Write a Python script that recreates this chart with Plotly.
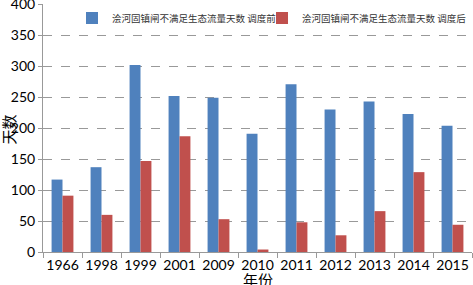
import plotly.graph_objects as go

years = ["1966", "1998", "1999", "2001", "2009", "2010", "2011", "2012", "2013", "2014", "2015"]
before = [117, 137, 302, 252, 249, 191, 271, 230, 243, 223, 204]
after = [91, 60, 147, 187, 53, 4, 48, 27, 66, 129, 44]
name_before = "浍河固镇闸不满足生态流量天数 调度前"
name_after = "浍河固镇闸不满足生态流量天数 调度后"

fig = go.Figure()
fig.add_trace(go.Bar(x=years, y=before, name=name_before, marker_color="#4F81BD",
                     marker_line_width=0, legend="legend"))
fig.add_trace(go.Bar(x=years, y=after, name=name_after, marker_color="#C0504D",
                     marker_line_width=0, legend="legend2"))

tickfont = dict(family="Lato, Open Sans, sans-serif", size=14, color="#000")
legfont = dict(family="Noto Sans CJK SC", size=9.5, color="#333")
titlefont = dict(family="Noto Sans CJK SC", size=15, color="#000")
fig.update_layout(
    width=473, height=285,
    margin=dict(l=43, r=1, t=4, b=33, autoexpand=False),
    paper_bgcolor="white", plot_bgcolor="white",
    barmode="group", bargap=0.44, bargroupgap=0,
    showlegend=True,
    legend=dict(x=0.0676, y=0.944, xanchor="left", yanchor="middle",
                font=legfont, bgcolor="rgba(0,0,0,0)", itemwidth=30),
    legend2=dict(x=0.5105, y=0.944, xanchor="left", yanchor="middle",
                 font=legfont, bgcolor="rgba(0,0,0,0)", itemwidth=30),
    xaxis=dict(type="category", tickfont=tickfont, tickangle=0, showline=True, linecolor="#999",
               linewidth=1, ticks="outside", tickson="boundaries", ticklen=5,
               tickcolor="#999", showgrid=False, automargin=False),
    yaxis=dict(range=[0, 400.6], tickvals=[0, 50, 100, 150, 200, 250, 300, 350, 400],
               tickfont=tickfont, showline=True, linecolor="#999",
               linewidth=1, ticks="outside", ticklen=4, tickcolor="#999",
               showgrid=True, gridcolor="#999", griddash="dash", gridwidth=1,
               zeroline=False, automargin=False, ticklabeloverflow="allow"),
    annotations=[
        dict(text="天数", xref="paper", yref="paper", x=-0.0804, y=0.492,
             xanchor="center", yanchor="middle", textangle=-90, showarrow=False,
             font=titlefont),
        dict(text="年份", xref="paper", yref="paper", x=0.501, y=-0.112,
             xanchor="center", yanchor="middle", showarrow=False, font=titlefont),
    ],
)
fig.write_html("out.html", config={"displayModeBar": False},
               post_script="document.body.style.margin='0';")
